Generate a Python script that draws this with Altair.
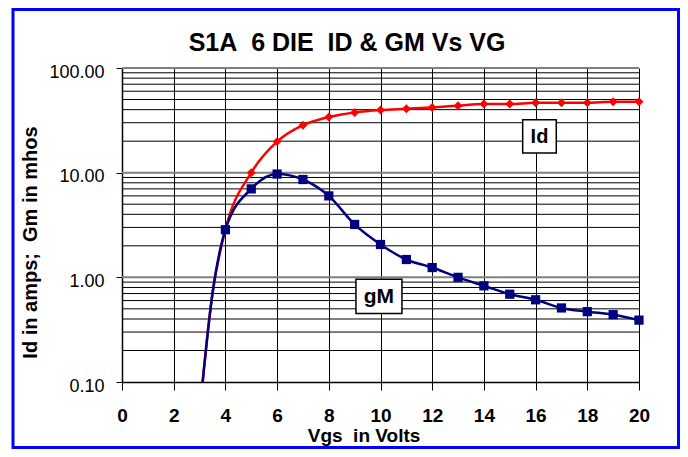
import altair as alt
import pandas as pd

# ---- data ----
vgs = [3.0, 3.5, 4, 5, 6, 7, 8, 9, 10, 11, 12, 13, 14, 15, 16, 17, 18, 19, 20]
id_amps = [0.05, 0.7, 2.85, 10.0, 19.8, 28.4, 34.0, 37.6, 39.7, 40.8, 42.0,
           43.6, 45.2, 45.2, 46.6, 46.6, 46.6, 47.6, 47.6]
gm_mhos = [0.05, 0.7, 2.85, 7.0, 9.7, 8.6, 6.0, 3.2, 2.06, 1.48, 1.24,
           1.0, 0.83, 0.69, 0.61, 0.51, 0.47, 0.44, 0.39]

x_ticks = [0, 2, 4, 6, 8, 10, 12, 14, 16, 18, 20]
y_ticks = [0.1, 1, 10, 100]
minor_grid = [0.2, 0.3, 0.4, 0.5, 0.6, 0.7, 0.8, 0.9,
              2, 3, 4, 5, 6, 7, 8, 9,
              20, 30, 40, 50, 60, 70, 80, 90]
major_grid = [1, 10, 100]

label_text = ["Id", "gM"]
label_x = [16.15, 9.94]
label_y = [22.2, 0.66]
label_x1 = [15.5, 9.05]
label_x2 = [16.8, 10.83]
label_y1 = [15.4, 0.452]
label_y2 = [32.0, 0.957]
label_size = [20, 21]

chart_title = ["S1A\u00a0 6 DIE\u00a0 ID & GM Vs VG"]

FONT = "Liberation Sans"

df = pd.DataFrame({"vgs": vgs, "Id": id_amps, "gM": gm_mhos})
grid_minor = pd.DataFrame({"value": minor_grid})
grid_major = pd.DataFrame({"value": major_grid})
labels = pd.DataFrame({"t": label_text, "x": label_x, "y": label_y,
                       "x1": label_x1, "x2": label_x2,
                       "y1": label_y1, "y2": label_y2, "s": label_size})
title_df = pd.DataFrame({"t": chart_title})

xscale = alt.Scale(domain=[0, 20], nice=False, zero=False)
yscale = alt.Scale(type="log", domain=[0.1, 100], nice=False)

xaxis = alt.Axis(values=x_ticks, grid=True, gridColor="#000000", gridWidth=1,
                 gridOpacity=1, domainColor="#000000", domainWidth=1.5,
                 tickColor="#000000", tickSize=8, tickWidth=1,
                 labelFont=FONT, labelFontSize=19, labelFontWeight="bold",
                 labelColor="#000000", labelBaseline="alphabetic",
                 labelPadding=31, labelFlush=False,
                 title="Vgs\u00a0 in Volts", titleFont=FONT, titleFontSize=19,
                 titleFontWeight="bold", titleColor="#000000",
                 titleX=241.5, titleY=59, titleBaseline="alphabetic",
                 titleAlign="center")
yaxis = alt.Axis(values=y_ticks, grid=False, format=".2f",
                 domainColor="#000000", domainWidth=1.5,
                 tickColor="#000000", tickSize=6, tickWidth=1,
                 labelFont=FONT, labelFontSize=18, labelFontWeight="normal",
                 labelColor="#000000", labelPadding=12, labelOffset=4,
                 labelFlush=False,
                 title="Id in amps;\u00a0 Gm in mhos", titleFont=FONT,
                 titleFontSize=20, titleFontWeight="bold", titleColor="#000000",
                 titleX=-92, titleY=174, titleAngle=270,
                 titleAlign="center", titleBaseline="middle")


def X(field):
    return alt.X(field, type="quantitative", scale=xscale, axis=xaxis)


def Y(field):
    return alt.Y(field, type="quantitative", scale=yscale, axis=yaxis)


minor = alt.Chart(grid_minor).mark_rule(color="#000000", strokeWidth=1).encode(
    y=Y("value"))
major = alt.Chart(grid_major).mark_rule(color="#808080", strokeWidth=2).encode(
    y=Y("value"))

id_line = alt.Chart(df).mark_line(color="#FF0000", strokeWidth=2.5,
                                  interpolate="monotone", clip=True).encode(
    x=X("vgs"), y=Y("Id"))
id_pts = alt.Chart(df).transform_filter("datum.vgs >= 4").mark_point(
    shape="diamond", filled=True, size=80, color="#FF0000", opacity=1).encode(
    x=X("vgs"), y=Y("Id"))
gm_line = alt.Chart(df).mark_line(color="#000080", strokeWidth=2.5,
                                  interpolate="monotone", clip=True).encode(
    x=X("vgs"), y=Y("gM"))
gm_pts = alt.Chart(df).transform_filter("datum.vgs >= 4").mark_point(
    shape="square", filled=True, size=85, color="#000080", opacity=1).encode(
    x=X("vgs"), y=Y("gM"))

boxes = alt.Chart(labels).mark_rect(fill="#FFFFFF", stroke="#000000",
                                    strokeWidth=1.5).encode(
    x=X("x1"), x2="x2", y=Y("y1"), y2="y2")
texts = alt.Chart(labels).mark_text(font=FONT, fontWeight="bold",
                                    color="#000000", align="center",
                                    baseline="middle", dy=1).encode(
    x=X("x"), y=Y("y"), text="t:N",
    size=alt.Size("s:Q", scale=None, legend=None))

title_text = alt.Chart(title_df).mark_text(
    font=FONT, fontSize=25, fontWeight="bold", color="#000000",
    align="center", baseline="alphabetic").encode(
    x=alt.value(225), y=alt.value(-17), text="t:N")

frame = alt.Chart(pd.DataFrame({"k": [0]})).mark_rect(
    fillOpacity=0, stroke="#0000FF", strokeWidth=3).encode(
    x=alt.value(-109), x2=alt.value(556.5),
    y=alt.value(-58.5), y2=alt.value(379.5))

chart = alt.layer(minor, major, id_line, gm_line, id_pts, gm_pts,
                  boxes, texts, title_text, frame).properties(
    width=517, height=314,
    autosize=alt.AutoSizeParams(type="none"),
    padding={"left": 114, "top": 60, "right": 41, "bottom": 67},
).configure_view(stroke="#808080", strokeWidth=1.5).configure(
    background="#FFFFFF")

chart.save("out.html", embed_options={"renderer": "svg", "actions": False})
